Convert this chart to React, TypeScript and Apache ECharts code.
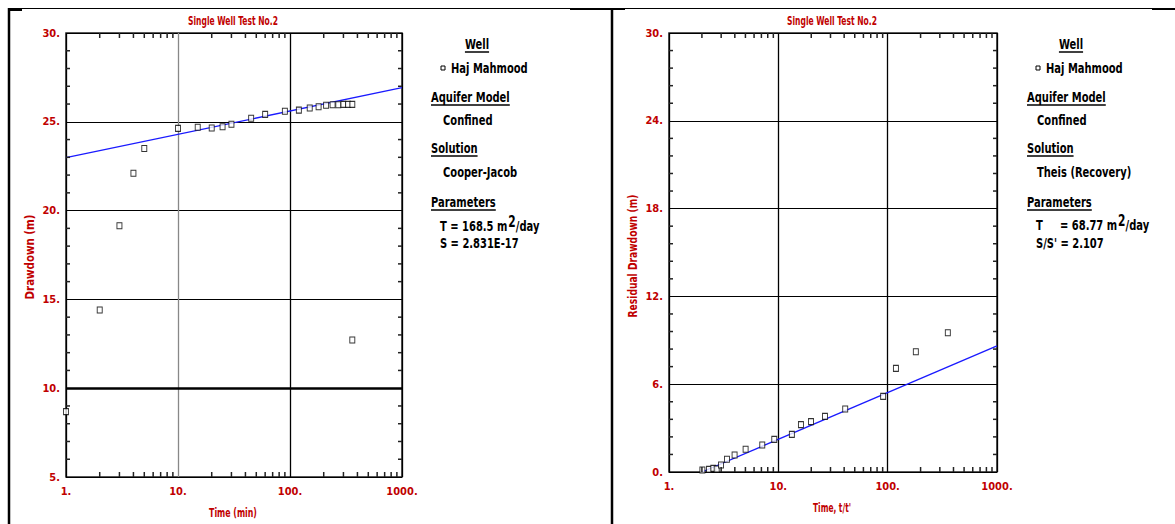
import React, { useEffect, useRef } from "react";
import * as echarts from "echarts";

// ---------- data ----------
const leftTime = [1, 2, 3, 4, 5, 10, 15, 20, 25, 30, 45, 60, 90, 120, 150, 180, 210, 240, 270, 300, 330, 360, 360];
const leftDrawdown = [8.68, 14.4, 19.15, 22.1, 23.5, 24.63, 24.69, 24.65, 24.72, 24.86, 25.2, 25.42, 25.59, 25.66, 25.78, 25.85, 25.93, 25.96, 25.96, 25.98, 25.98, 25.98, 12.71];
const leftFitTime = [1, 1000];
const leftFitDrawdown = [22.98, 26.92];

const rightTime = [2.02, 2.32, 2.54, 2.73, 2.99, 3.39, 3.98, 5.02, 7.13, 9.18, 13.3, 16.1, 19.9, 26.7, 40.9, 90.9, 119, 181, 355];
const rightResidual = [0.14, 0.18, 0.25, 0.2, 0.48, 0.87, 1.16, 1.55, 1.85, 2.23, 2.57, 3.24, 3.44, 3.8, 4.3, 5.17, 7.08, 8.22, 9.52];
const rightFitTime = [2, 1000];
const rightFitResidual = [0, 8.62];

const xMinorTicks = [2, 3, 4, 5, 6, 7, 8, 9, 20, 30, 40, 50, 60, 70, 80, 90, 200, 300, 400, 500, 600, 700, 800, 900];
const leftYMinorTicks = [6, 7, 8, 9, 11, 12, 13, 14, 16, 17, 18, 19, 21, 22, 23, 24, 26, 27, 28, 29];
const rightYMinorTicks = [1.2, 2.4, 3.6, 4.8, 7.2, 8.4, 9.6, 10.8, 13.2, 14.4, 15.6, 16.8, 19.2, 20.4, 21.6, 22.8, 25.2, 26.4, 27.6, 28.8];

const chartTitle = "Single Well Test No.2";
const wellName = "Haj Mahmood";

// ---------- styles ----------
const FONT = "'Liberation Sans Narrow', 'DejaVu Sans Condensed', 'Liberation Sans', sans-serif";
const RED = "#c00000";
const LEG_SIZE = 14;
const LEG_SCALE = 0.79;

function zip(a: number[], b: number[]) {
  return a.map((v, i) => [v, b[i]]);
}

let measureCtx: CanvasRenderingContext2D | null = null;
function measure(text: string, size: number) {
  if (!measureCtx) measureCtx = document.createElement("canvas").getContext("2d");
  measureCtx!.font = `bold ${size}px ${FONT}`;
  return measureCtx!.measureText(text).width;
}

function txt(x: number, y: number, text: string, opts: any = {}) {
  const align = opts.align || "left";
  return {
    type: "text",
    x,
    y,
    rotation: opts.rotation || 0,
    scaleX: opts.scale ?? LEG_SCALE,
    scaleY: 1,
    silent: true,
    z: 10,
    style: {
      text,
      fill: opts.color || "#000",
      fontSize: opts.size || LEG_SIZE,
      fontWeight: "bold",
      fontFamily: FONT,
      align,
      textAlign: align,
      verticalAlign: "middle",
      textVerticalAlign: "middle",
    },
  };
}

// text squeezed horizontally to a target width
function fitText(x: number, y: number, text: string, size: number, width: number, opts: any = {}) {
  const s = width / measure(text, size);
  return txt(x, y, text, { ...opts, size, scale: s, align: "center" });
}

function header(text: string, x: number, y: number, align = "left") {
  const w = measure(text, LEG_SIZE) * LEG_SCALE;
  const x0 = align === "center" ? x - w / 2 : x;
  return [
    txt(x, y, text, { align }),
    { type: "line", silent: true, z: 10, shape: { x1: x0, y1: y + 8, x2: x0 + w, y2: y + 8 }, style: { stroke: "#000", lineWidth: 1.5 } },
  ];
}

function supLine(x: number, y: number, before: string, sup: string, after: string) {
  const w1 = measure(before, LEG_SIZE) * LEG_SCALE;
  const w2 = measure(sup, LEG_SIZE + 1) * LEG_SCALE;
  return [
    txt(x, y, before),
    txt(x + w1 + 1, y - 5, sup, { size: LEG_SIZE + 1 }),
    txt(x + w1 + w2 + 1, y, after),
  ];
}

function marker(x: number, y: number) {
  return { type: "rect", silent: true, z: 10, shape: { x: x - 2, y: y - 2, width: 4, height: 4 }, style: { fill: "#fff", stroke: "#000", lineWidth: 1 } };
}

function tickSeries(idx: number, xMin: number, xMax: number, yMin: number, yMax: number, yMinor: number[]) {
  const data = [...xMinorTicks.map((v) => [v, yMin, 0]), ...yMinor.map((v) => [xMin, v, 1])];
  return {
    type: "custom",
    xAxisIndex: idx,
    yAxisIndex: idx,
    silent: true,
    z: 5,
    data,
    renderItem: (params: any, api: any) => {
      const f = api.value(2);
      const st = { stroke: "#222", lineWidth: 1.5 };
      if (f === 0) {
        const v = api.value(0);
        const b = api.coord([v, yMin]);
        const t = api.coord([v, yMax]);
        return {
          type: "group",
          children: [
            { type: "line", shape: { x1: b[0], y1: b[1], x2: b[0], y2: b[1] - 5 }, style: st },
            { type: "line", shape: { x1: t[0], y1: t[1], x2: t[0], y2: t[1] + 5 }, style: st },
          ],
        };
      }
      const v = api.value(1);
      const l = api.coord([xMin, v]);
      const r = api.coord([xMax, v]);
      return {
        type: "group",
        children: [
          { type: "line", shape: { x1: l[0], y1: l[1], x2: l[0] + 4, y2: l[1] }, style: st },
          { type: "line", shape: { x1: r[0], y1: r[1], x2: r[0] - 4, y2: r[1] }, style: st },
        ],
      };
    },
  };
}

const axisLabelStyle = { color: RED, fontWeight: "bold", fontSize: 11, fontFamily: FONT };

function xAxisCfg(idx: number, gridColors: string[]) {
  return {
    gridIndex: idx,
    type: "log",
    logBase: 10,
    min: 1,
    max: 1000,
    axisLine: { show: false },
    axisTick: { show: false },
    splitLine: { show: true, lineStyle: { color: gridColors, width: 1.3 } },
    axisLabel: { ...axisLabelStyle, margin: 9, formatter: (v: number) => Math.round(v) + "." },
  };
}

function yAxisCfg(idx: number, min: number, max: number, interval: number) {
  return {
    gridIndex: idx,
    type: "value",
    min,
    max,
    interval,
    axisLine: { show: false },
    axisTick: { show: false },
    splitLine: { show: true, lineStyle: { color: "#000", width: 1.2 } },
    axisLabel: { ...axisLabelStyle, margin: 6, formatter: (v: number) => v + "." },
  };
}

export default function App() {
  const ref = useRef<HTMLDivElement>(null);
  useEffect(() => {
    const chart = echarts.init(ref.current!, null, { renderer: "svg" });

    const graphic: any[] = [
      // frame
      { type: "line", silent: true, shape: { x1: 8, y1: 8.5, x2: 1175, y2: 8.5 }, style: { stroke: "#000", lineWidth: 1 } },
      { type: "line", silent: true, shape: { x1: 8, y1: 10, x2: 22, y2: 10 }, style: { stroke: "#000", lineWidth: 2 } },
      { type: "line", silent: true, shape: { x1: 1152, y1: 9, x2: 1175, y2: 9 }, style: { stroke: "#000", lineWidth: 2 } },
      { type: "line", silent: true, shape: { x1: 570, y1: 9, x2: 625, y2: 9 }, style: { stroke: "#000", lineWidth: 2 } },
      { type: "line", silent: true, shape: { x1: 9, y1: 8, x2: 9, y2: 524 }, style: { stroke: "#000", lineWidth: 2.5 } },
      { type: "line", silent: true, shape: { x1: 612, y1: 8, x2: 612, y2: 524 }, style: { stroke: "#000", lineWidth: 2.5 } },
      // titles
      fitText(233, 20, chartTitle, 12, 90, { color: RED }),
      fitText(832, 20, chartTitle, 12, 90, { color: RED }),
      // axis names
      fitText(30, 257, "Drawdown (m)", 13, 85, { color: RED, rotation: Math.PI / 2 }),
      fitText(233, 513, "Time (min)", 13, 48, { color: RED }),
      fitText(633, 256, "Residual Drawdown (m)", 13, 123, { color: RED, rotation: Math.PI / 2 }),
      fitText(832, 508, "Time, t/t'", 13, 38, { color: RED }),
      // left legend
      ...header("Well", 477, 44, "center"),
      marker(443, 68),
      txt(451, 68, wellName),
      ...header("Aquifer Model", 431, 97),
      txt(443, 120, "Confined"),
      ...header("Solution", 431, 148),
      txt(443, 172, "Cooper-Jacob"),
      ...header("Parameters", 431, 202),
      ...supLine(440, 226, "T = 168.5 m", "2", "/day"),
      txt(440, 243, "S = 2.831E-17"),
      // right legend
      ...header("Well", 1071, 44, "center"),
      marker(1038, 68),
      txt(1046, 68, wellName),
      ...header("Aquifer Model", 1027, 97),
      txt(1037, 120, "Confined"),
      ...header("Solution", 1027, 148),
      txt(1037, 172, "Theis (Recovery)"),
      ...header("Parameters", 1027, 202),
      txt(1036, 225, "T"),
      ...supLine(1060, 225, "= 68.77 m", "2", "/day"),
      txt(1036, 243, "S/S' = 2.107"),
    ];

    const scatterStyle = { color: "#fff", borderColor: "#000", borderWidth: 1 };
    const fitStyle = { color: "#1a1aff", width: 1.3 };

    const option: any = {
      animation: false,
      backgroundColor: "#fff",
      grid: [
        { left: 66, top: 33, width: 336, height: 444, show: true, borderColor: "#222", borderWidth: 1.5, backgroundColor: "transparent" },
        { left: 669, top: 33, width: 328, height: 439, show: true, borderColor: "#222", borderWidth: 1.5, backgroundColor: "transparent" },
      ],
      xAxis: [xAxisCfg(0, ["#000", "#888", "#000", "#000"]), xAxisCfg(1, ["#000", "#000", "#000", "#000"])],
      yAxis: [yAxisCfg(0, 5, 30, 5), yAxisCfg(1, 0, 30, 6)],
      series: [
        {
          type: "line",
          xAxisIndex: 0,
          yAxisIndex: 0,
          data: zip(leftFitTime, leftFitDrawdown),
          showSymbol: false,
          symbol: "none",
          lineStyle: fitStyle,
          itemStyle: { color: fitStyle.color },
          z: 2,
          markLine: {
            silent: true,
            symbol: "none",
            label: { show: false },
            lineStyle: { color: "#000", width: 2.5, type: "solid" },
            data: [{ yAxis: 10 }],
          },
        },
        {
          type: "scatter",
          xAxisIndex: 0,
          yAxisIndex: 0,
          data: zip(leftTime, leftDrawdown),
          symbol: "rect",
          symbolSize: [5, 6],
          itemStyle: scatterStyle,
          z: 3,
        },
        tickSeries(0, 1, 1000, 5, 30, leftYMinorTicks),
        {
          type: "line",
          xAxisIndex: 1,
          yAxisIndex: 1,
          data: zip(rightFitTime, rightFitResidual),
          showSymbol: false,
          symbol: "none",
          lineStyle: fitStyle,
          itemStyle: { color: fitStyle.color },
          z: 2,
        },
        {
          type: "scatter",
          xAxisIndex: 1,
          yAxisIndex: 1,
          data: zip(rightTime, rightResidual),
          symbol: "rect",
          symbolSize: [5, 6],
          itemStyle: scatterStyle,
          z: 3,
        },
        tickSeries(1, 1, 1000, 0, 30, rightYMinorTicks),
      ],
      graphic,
    };

    chart.setOption(option);
    return () => chart.dispose();
  }, []);

  return <div ref={ref} style={{ position: "absolute", left: 0, top: 0, width: 1175, height: 524, background: "#fff" }} />;
}
